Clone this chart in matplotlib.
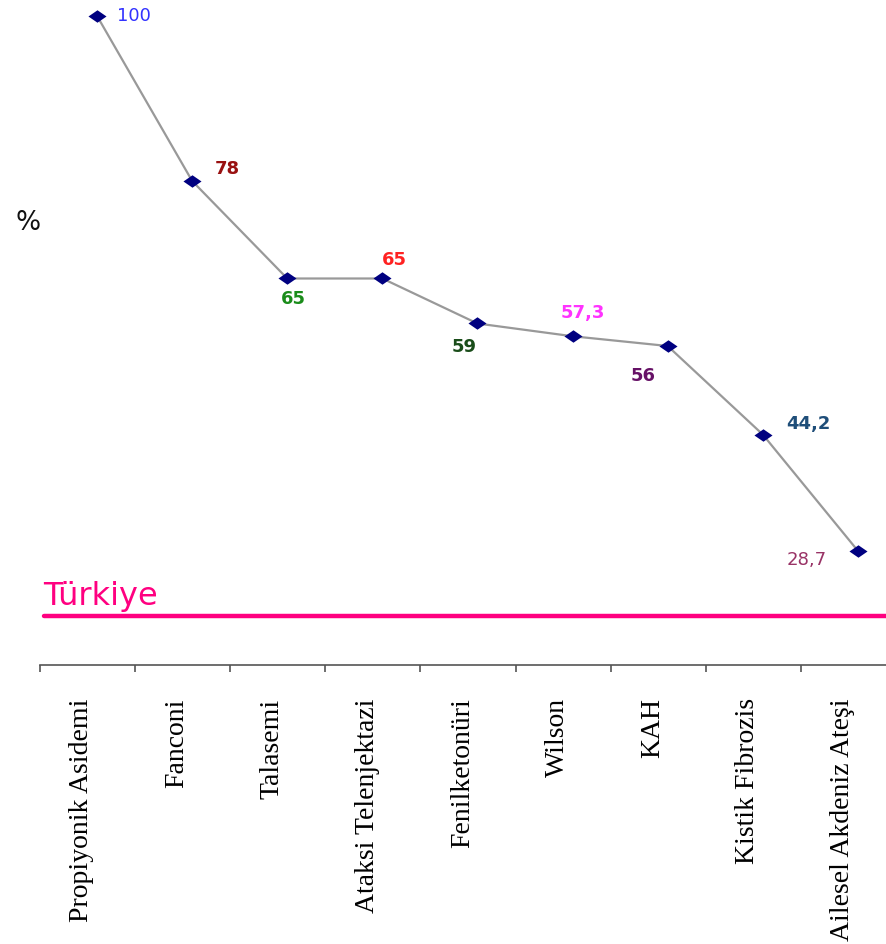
import matplotlib
matplotlib.use("Agg")
import matplotlib.pyplot as plt
from matplotlib.path import Path

# Disease categories and their rates (%)
categories = ["Propiyonik Asidemi", "Fanconi", "Talasemi", "Ataksi Telenjektazi",
              "Fenilketonüri", "Wilson", "KAH", "Kistik Fibrozis", "Ailesel Akdeniz Ateşi"]
values = [100, 78, 65, 65, 59, 57.3, 56, 44.2, 28.7]
value_labels = ["100", "78", "65", "65", "59", "57,3", "56", "44,2", "28,7"]
turkiye_value = 20

label_colors = ["#3333FF", "#991111", "#1A8C1A", "#FF2222", "#1A4D1A",
                "#FF33FF", "#661166", "#1F4E79", "#993366"]
label_weights = ["normal", "bold", "bold", "bold", "bold", "bold", "bold", "bold", "normal"]
label_offsets = [(37, 0), (35, 12), (6, -21), (12, 18), (-13, -24),
                 (10, 23), (-25, -30), (46, 11), (-51, -9)]

W, H = 886, 944
fig = plt.figure(figsize=(W / 100, H / 100), dpi=100)
slot = 95.1
left_px, axis_px = 40, 665
ax = fig.add_axes([left_px / W, (H - axis_px) / H, 9 * slot / W, axis_px / H])
ax.set_xlim(0, 9)
ax.set_ylim(13.47, 102.13)

xs = [i + 0.6 for i in range(len(values))]

# Flattened diamond marker
diamond = Path([(-1.45, 0), (0, 1), (1.45, 0), (0, -1), (-1.45, 0)],
               [Path.MOVETO, Path.LINETO, Path.LINETO, Path.LINETO, Path.CLOSEPOLY])
ax.plot(xs, values, color="#999999", lw=1.6, zorder=2)
ax.plot(xs, values, linestyle="none", marker=diamond, ms=13, color="#000080",
        markeredgewidth=0, zorder=3, clip_on=False)

for x, v, t, c, w, (dx, dy) in zip(xs, values, value_labels, label_colors,
                                    label_weights, label_offsets):
    ax.annotate(t, (x, v), xytext=(dx, dy), textcoords="offset pixels",
                ha="center", va="center", color=c, fontsize=13, fontweight=w,
                family="DejaVu Sans")

# Turkey reference line
ax.plot([0.04, 9], [turkiye_value, turkiye_value], color="#FF0080", lw=3.2,
        solid_capstyle="round", clip_on=False, zorder=1)
ax.text(0.03, turkiye_value + 0.6, "Türkiye", color="#FF0080", fontsize=23,
        family="DejaVu Sans", ha="left", va="bottom")

# "%" axis title
fig.text(28 / W, 1 - 223 / H, "%", fontsize=19, family="DejaVu Sans",
         ha="center", va="center", color="#111111")

# Axes styling
for s in ["top", "right", "left"]:
    ax.spines[s].set_visible(False)
ax.spines["bottom"].set_color("#555555")
ax.spines["bottom"].set_linewidth(1.2)
ax.set_yticks([])
ax.set_xticks(range(0, 10))
ax.set_xticklabels([])
ax.tick_params(axis="x", which="major", direction="out", length=5, width=1.2,
               color="#555555")
ax.set_xticks([i + 0.44 for i in range(len(categories))], minor=True)
ax.set_xticklabels(categories, minor=True, rotation=90, va="top", ha="center",
                   family="Liberation Serif", fontsize=20)
ax.tick_params(axis="x", which="minor", length=0, pad=24)

fig.savefig("out.png", dpi=100)
